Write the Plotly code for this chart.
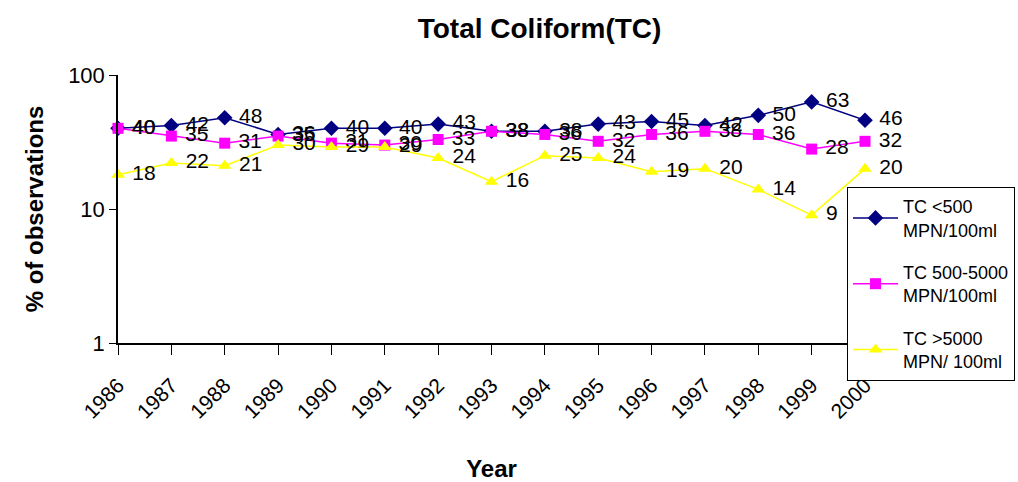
import plotly.graph_objects as go

years = list(range(1986, 2001))
tc_lt500 = [40, 42, 48, 36, 40, 40, 43, 38, 38, 43, 45, 42, 50, 63, 46]
tc_500_5000 = [40, 35, 31, 35, 31, 30, 33, 38, 36, 32, 36, 38, 36, 28, 32]
tc_gt5000 = [18, 22, 21, 30, 29, 29, 24, 16, 25, 24, 19, 20, 14, 9, 20]

names = ["TC <500<br>MPN/100ml", "TC 500-5000<br>MPN/100ml", "TC >5000<br>MPN/ 100ml"]
colors = ["#000080", "#FF00FF", "#FFFF00"]
symbols = ["diamond", "square", "triangle-up"]
series = [tc_lt500, tc_500_5000, tc_gt5000]

FONT = "Liberation Sans, Arial, sans-serif"

fig = go.Figure()
for i, (vals, nm, col, sym) in enumerate(zip(series, names, colors, symbols)):
    fig.add_trace(go.Scatter(
        x=years, y=vals, name=nm, mode="lines+markers+text",
        text=["\u00a0" + str(v) for v in vals], textposition="middle right",
        textfont=dict(family=FONT, size=21, color="black"),
        line=dict(color=col, width=1.5),
        marker=dict(symbol=sym, color=col, size=12 if sym != "square" else 11),
        cliponaxis=False, legendgroup=f"g{i}",
    ))

fig.update_layout(
    width=1018, height=482,
    margin=dict(l=118, r=153, t=75, b=139, autoexpand=False),
    paper_bgcolor="white", plot_bgcolor="white",
    font=dict(family=FONT, color="black"),
    title=dict(text="<b>Total Coliform(TC)</b>", x=0.53, xanchor="center",
               y=1 - 28 / 482, yanchor="middle", yref="container",
               font=dict(size=28, family=FONT)),
    showlegend=True,
    legend=dict(x=847 / 1018, y=1 - 187 / 482, xref="container", yref="container",
                xanchor="left", yanchor="top",
                bordercolor="black", borderwidth=1, bgcolor="white",
                font=dict(size=18, family=FONT), traceorder="grouped",
                tracegroupgap=16, itemwidth=45),
    xaxis=dict(range=[1986, 2000], tickmode="array", tickvals=years,
               ticktext=[str(y) for y in years], tickangle=-45,
               tickfont=dict(size=21), ticks="outside", ticklen=10,
               tickcolor="black", showline=True, linecolor="black",
               linewidth=1.5, showgrid=False, zeroline=False,
               ticklabelstandoff=10, automargin=False,
               title=dict(text="<b>Year</b>", font=dict(size=24), standoff=40)),
    yaxis=dict(type="log", range=[0, 2], tickvals=[1, 10, 100],
               ticktext=["1", "10", "100"], tickfont=dict(size=22),
               ticks="outside", ticklen=7, tickcolor="black",
               showline=True, linecolor="black", linewidth=1.5,
               showgrid=False, zeroline=False, automargin=False,
               title=dict(text="<b>% of observations</b>", font=dict(size=24),
                          standoff=18)),
)

fig.write_html("out.html")
